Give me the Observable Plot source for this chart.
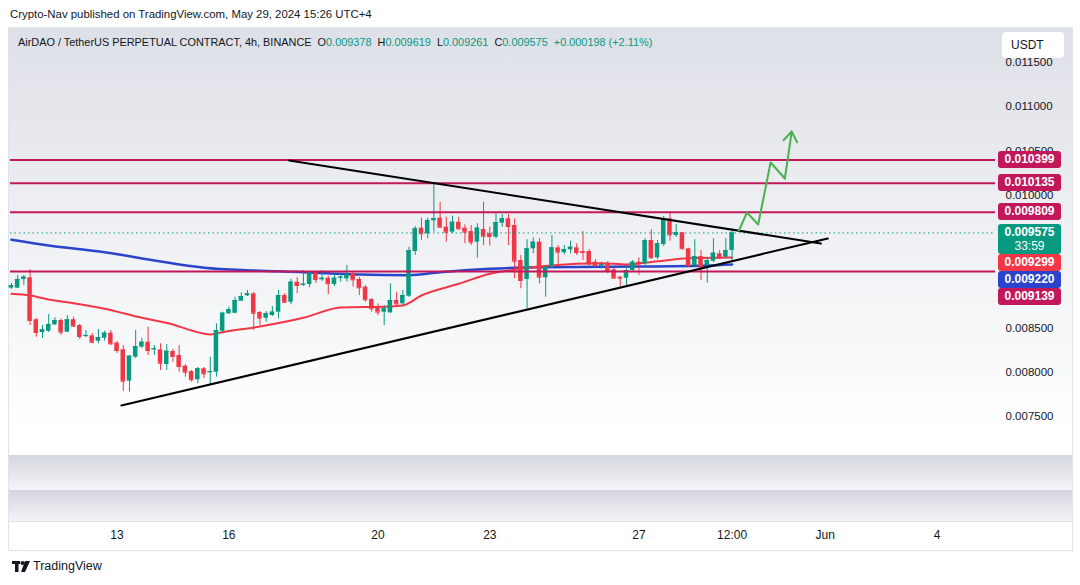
<!DOCTYPE html>
<html><head><meta charset="utf-8">
<script src="https://cdn.jsdelivr.net/npm/d3@7"></script>
<script src="https://cdn.jsdelivr.net/npm/@observablehq/plot@0.6"></script>
<style>
body{margin:0;background:#fff;font-family:"Liberation Sans",Arial,sans-serif;color:#131722;}
#root{position:relative;width:1080px;height:585px;overflow:hidden;background:#fff;}
.abs{position:absolute;}
.pane{left:9px;width:1063px;}
.lbl{position:absolute;left:998px;width:63px;border-radius:3px;color:#fff;font-weight:bold;font-size:12px;line-height:17px;padding-left:0;text-align:center;}
#root svg{position:absolute;left:0;top:0;}
</style></head><body><div id="root"></div>
<script>
// ---- data (prices in USDT) ----
const startTime = "2024-05-10T04:00:00Z"; // first visible 4h candle
const opens = [0.008952,0.008952,0.009050,0.009069,0.008595,0.008451,0.008466,0.008538,0.008587,0.008455,
0.008595,0.008530,0.008406,0.008414,0.008353,0.008387,0.008444,0.008331,0.008256,0.007902,
0.008173,0.008286,0.008342,0.008256,0.008256,0.008090,0.008237,0.008192,0.008071,0.008011,
0.007918,0.008042,0.007997,0.008003,0.008466,0.008663,0.008669,0.008805,0.008866,0.008888,
0.008677,0.008613,0.008643,0.008681,0.008869,0.008793,0.009019,0.008982,0.008993,0.009125,
0.009046,0.009064,0.008993,0.009064,0.009057,0.009114,0.009050,0.008963,0.008824,0.008726,
0.008681,0.008674,0.008813,0.008775,0.008861,0.009366,0.009629,0.009566,0.009712,0.009742,
0.009640,0.009584,0.009696,0.009629,0.009591,0.009471,0.009614,0.009566,0.009527,0.009685,
0.009735,0.009659,0.009264,0.009050,0.009396,0.009471,0.009069,0.009189,0.009407,0.009351,
0.009385,0.009407,0.009366,0.009366,0.009245,0.009200,0.009227,0.009159,0.009076,0.009064,
0.009151,0.009245,0.009227,0.009490,0.009295,0.009445,0.009735,0.009546,0.009577,0.009396,
0.009208,0.009309,0.009208,0.009256,0.009340,0.009301,0.009378];
const highs = [0.009005,0.009095,0.009095,0.009159,0.008610,0.008530,0.008655,0.008617,0.008606,0.008643,
0.008624,0.008542,0.008474,0.008440,0.008485,0.008466,0.008474,0.008350,0.008305,0.008192,
0.008474,0.008387,0.008511,0.008305,0.008324,0.008316,0.008260,0.008305,0.008090,0.008023,
0.008056,0.008056,0.008173,0.008550,0.008681,0.008737,0.008850,0.008900,0.008926,0.008903,
0.008688,0.008688,0.008745,0.008926,0.008892,0.009053,0.009069,0.009151,0.009140,0.009140,
0.009151,0.009087,0.009106,0.009121,0.009208,0.009140,0.009072,0.008982,0.008835,0.008775,
0.008756,0.009001,0.008906,0.008926,0.009414,0.009648,0.009742,0.009742,0.010130,0.009922,
0.009753,0.009764,0.009753,0.009667,0.009659,0.009678,0.009922,0.009640,0.009791,0.009783,
0.009783,0.009735,0.009321,0.009498,0.009520,0.009512,0.009208,0.009546,0.009433,0.009433,
0.009482,0.009453,0.009591,0.009388,0.009275,0.009245,0.009253,0.009174,0.009084,0.009170,
0.009264,0.009295,0.009512,0.009611,0.009490,0.009764,0.009809,0.009670,0.009584,0.009403,
0.009498,0.009377,0.009298,0.009509,0.009377,0.009512,0.009619];
const lows = [0.008937,0.008948,0.008982,0.008530,0.008398,0.008384,0.008451,0.008530,0.008418,0.008451,
0.008508,0.008372,0.008392,0.008324,0.008324,0.008353,0.008305,0.008214,0.007786,0.007778,
0.008158,0.008271,0.008192,0.008192,0.008023,0.008023,0.008116,0.008003,0.007947,0.007891,
0.007872,0.007929,0.007853,0.007947,0.008451,0.008655,0.008663,0.008801,0.008858,0.008474,
0.008530,0.008568,0.008632,0.008606,0.008779,0.008764,0.008888,0.008971,0.008956,0.009005,
0.009027,0.008877,0.008971,0.009019,0.009019,0.008963,0.008869,0.008793,0.008681,0.008643,
0.008530,0.008666,0.008756,0.008756,0.008847,0.009321,0.009490,0.009509,0.009584,0.009625,
0.009471,0.009569,0.009603,0.009453,0.009433,0.009290,0.009433,0.009426,0.009509,0.009640,
0.009433,0.009058,0.008945,0.008719,0.009340,0.009001,0.008850,0.009174,0.009208,0.009328,
0.009340,0.009321,0.009264,0.009189,0.009185,0.009170,0.009114,0.009050,0.008963,0.008982,
0.009140,0.009095,0.009208,0.009275,0.009275,0.009422,0.009482,0.009524,0.009385,0.009185,
0.009189,0.009038,0.009008,0.009242,0.009275,0.009287,0.009261];
const closes = [0.008982,0.009050,0.009076,0.008587,0.008451,0.008482,0.008542,0.008587,0.008455,0.008595,
0.008523,0.008406,0.008418,0.008342,0.008395,0.008444,0.008324,0.008248,0.007902,0.008184,
0.008293,0.008342,0.008248,0.008268,0.008105,0.008240,0.008181,0.008068,0.008003,0.007918,
0.008042,0.007985,0.008011,0.008474,0.008669,0.008708,0.008813,0.008858,0.008888,0.008669,
0.008613,0.008663,0.008681,0.008869,0.008793,0.009019,0.008982,0.008997,0.009125,0.009050,
0.009064,0.009001,0.009064,0.009076,0.009106,0.009046,0.008956,0.008821,0.008719,0.008681,
0.008719,0.008813,0.008775,0.008869,0.009377,0.009622,0.009566,0.009716,0.009735,0.009640,
0.009584,0.009696,0.009622,0.009584,0.009471,0.009629,0.009538,0.009535,0.009693,0.009735,
0.009648,0.009256,0.009038,0.009396,0.009471,0.009076,0.009189,0.009407,0.009358,0.009388,
0.009414,0.009354,0.009354,0.009227,0.009208,0.009219,0.009151,0.009064,0.009064,0.009151,
0.009245,0.009227,0.009490,0.009295,0.009453,0.009735,0.009554,0.009577,0.009396,0.009208,
0.009309,0.009189,0.009264,0.009347,0.009295,0.009377,0.009575];

// moving averages (candle index, value)
const emaFastIdx = [0,3,6,10,15,21,26,29,32,34,40,47,53,61,63,66,72,77,82,85,91,95,99,104,109,116];
const emaFastVal = [0.008888,0.008869,0.008824,0.008782,0.008719,0.008617,0.008542,0.008474,0.008429,0.008455,0.008519,0.008617,0.008734,0.008745,0.008756,0.008869,0.009001,0.009114,0.009170,0.009196,0.009227,0.009234,0.009219,0.009256,0.009290,0.009299];
const emaSlowIdx = [0,6,15,23,31,39,47,56,64,69,77,85,101,112,116];
const emaSlowVal = [0.009498,0.009433,0.009358,0.009264,0.009182,0.009151,0.009132,0.009106,0.009098,0.009132,0.009170,0.009189,0.009196,0.009208,0.009220];

// horizontal levels
const levels = [0.010399, 0.010135, 0.009809, 0.009139];
// triangle trendlines (candle index, price)
const upperIdx = [44.7, 130.3], upperVal = [0.010393, 0.009456];
const lowerIdx = [17.7, 131.4], lowerVal = [0.007628, 0.009512];
// projected path
const projIdx = [117.1, 118.4, 120.2, 122.2, 124.5, 125.6];
const projVal = [0.009603, 0.009806, 0.009670, 0.010370, 0.010190, 0.010720];

// axes (ticks hidden behind the price labels are left out)
const yTicks = [0.0075,0.008,0.0085,0.010,0.0105,0.011,0.0115];
const xTickTimes = ["2024-05-13T00:00Z","2024-05-16T00:00Z","2024-05-20T00:00Z","2024-05-23T00:00Z","2024-05-27T00:00Z","2024-05-29T12:00Z","2024-06-01T00:00Z","2024-06-04T00:00Z"];
const xTickLabels = ["13","16","20","23","27","12:00","Jun","4"];

// ---- build ----
const HOUR = 3600e3, t0 = Date.parse(startTime);
const tAt = k => new Date(t0 + k * 4 * HOUR);
const half = 1.45 * HOUR;
const candles = opens.map((o, i) => ({t: tAt(i), open: o, high: highs[i], low: lows[i], close: closes[i], up: closes[i] >= o}));
const UP = "#089981", DOWN = "#f23645", LEVEL = "#c2185b", BLUE = "#2b44cc";
const col = d => d.up ? UP : DOWN;
const pts = (I, V) => I.map((k, i) => ({t: tAt(k), v: V[i]}));
const xTicks = xTickTimes.map(s => new Date(s));
const tickMap = new Map(xTicks.map((d, i) => [+d, xTickLabels[i]]));
const proj = pts(projIdx, projVal);

const chart = Plot.plot({
  width: 1080, height: 585,
  marginLeft: 10, marginRight: 85, marginTop: 28, marginBottom: 130,
  style: {background: "transparent", fontFamily: "Liberation Sans, Arial, sans-serif", fontSize: "11.5px", color: "#131722"},
  x: {type: "utc", domain: [tAt(-0.15), tAt(158.4)]},
  y: {domain: [0.007063, 0.011883]},
  marks: [
    Plot.axisY({anchor: "right", ticks: yTicks, tickFormat: d => d.toFixed(6), tickSize: 0, tickPadding: 10, fill: "#131722", label: null}),
    Plot.axisX({ticks: xTicks, tickFormat: d => tickMap.get(+d), tickSize: 0, tickPadding: 0, dy: 75, fill: "#131722", fontSize: 12, label: null}),
    Plot.line(pts(emaSlowIdx, emaSlowVal), {x: "t", y: "v", stroke: BLUE, strokeWidth: 2.5, curve: "monotone-x"}),
    Plot.line(pts(emaFastIdx, emaFastVal), {x: "t", y: "v", stroke: DOWN, strokeWidth: 2, curve: "monotone-x"}),
    Plot.ruleX(candles, {x: "t", y1: "low", y2: "high", stroke: col, strokeWidth: 1}),
    Plot.rect(candles, {x1: d => new Date(+d.t - half), x2: d => new Date(+d.t + half), y1: "open", y2: "close", fill: col}),
    Plot.ruleY(candles, {y: "close", x1: d => new Date(+d.t - half), x2: d => new Date(+d.t + half), stroke: col, strokeWidth: 1}),
    Plot.ruleY([closes[closes.length - 1]], {stroke: UP, strokeWidth: 1, strokeDasharray: "1.5,3"}),
    Plot.ruleY(levels, {stroke: LEVEL, strokeWidth: 2}),
    Plot.line(pts(upperIdx, upperVal), {x: "t", y: "v", stroke: "#000", strokeWidth: 2}),
    Plot.line(pts(lowerIdx, lowerVal), {x: "t", y: "v", stroke: "#000", strokeWidth: 2}),
    Plot.line(proj.slice(0, -1), {x: "t", y: "v", stroke: "#4caf50", strokeWidth: 2}),
    Plot.arrow([0], {x1: () => proj[4].t, y1: () => proj[4].v, x2: () => proj[5].t, y2: () => proj[5].v, stroke: "#4caf50", strokeWidth: 2, headLength: 9, headAngle: 70})
  ]
});

const root = document.getElementById("root");
function div(cls, css, html) { const d = document.createElement("div"); d.className = cls; d.style.cssText = css; if (html != null) d.innerHTML = html; root.appendChild(d); return d; }
// backgrounds
div("abs pane", "top:28px;height:427px;background:linear-gradient(#dde0e7,#eaecf0 35%,#ffffff 95%);");
div("abs pane", "top:455px;height:35px;background:linear-gradient(#d3d6de,#f4f5f7);");
div("abs pane", "top:490px;height:32px;background:linear-gradient(#d3d6de,#f4f5f7);");
div("abs", "left:8px;top:27px;width:1063px;height:522px;border:1px solid #e0e3eb;");
div("abs pane", "top:521px;height:1px;background:#e0e3eb;");
root.appendChild(chart);
// header texts
div("abs", "left:10px;top:8px;font-size:11.4px;color:#131722;white-space:nowrap;", "Crypto-Nav published on TradingView.com, May 29, 2024 15:26 UTC+4");
const g = s => `<span style="color:${UP}">${s}</span>`;
div("abs", "left:18px;top:36px;font-size:10.9px;color:#131722;white-space:pre;",
  "AirDAO / TetherUS PERPETUAL CONTRACT, 4h, BINANCE  O" + g("0.009378") + "  H" + g("0.009619") + "  L" + g("0.009261") + "  C" + g("0.009575") + "  " + g("+0.000198 (+2.11%)"));
div("abs", "left:1002px;top:32px;width:62px;height:26px;background:#fff;border-radius:4px;font-size:12px;line-height:26px;text-indent:9px;color:#131722;", "USDT");
// price labels on the right, positioned with the plot's own y scale and stacked
const ys = chart.scale("y");
const labels = [
  {v: levels[0], html: "0.010399", bg: LEVEL},
  {v: levels[1], html: "0.010135", bg: LEVEL},
  {v: levels[2], html: "0.009809", bg: LEVEL},
  {v: closes[closes.length - 1], html: "0.009575<br><span style='font-weight:normal'>33:59</span>", bg: UP, h: 30},
  {v: emaFastVal[emaFastVal.length - 1], html: "0.009299", bg: DOWN},
  {v: emaSlowVal[emaSlowVal.length - 1], html: "0.009220", bg: BLUE},
  {v: levels[3], html: "0.009139", bg: LEVEL}
];
let prevBottom = -1e9;
for (const L of labels) {
  const h = L.h || 17;
  let top = ys.apply(L.v) - 8.5;
  if (top < prevBottom) top = prevBottom;
  prevBottom = top + h;
  div("lbl", `top:${top}px;height:${h}px;background:${L.bg};line-height:${h === 17 ? 17 : 14}px;padding-top:${h === 17 ? 0 : 1}px;box-sizing:border-box;`, L.html);
}
// footer
div("abs", "left:12px;top:561px;", `<svg width="20" height="12"><rect x="0" y="0" width="8" height="3" fill="#131722"/><rect x="3" y="0" width="3.5" height="11" fill="#131722"/><circle cx="10.5" cy="2" r="2" fill="#131722"/><path d="M13 0h5l-5 11h-4z" fill="#131722"/></svg>`);
div("abs", "left:33px;top:559px;font-size:12.5px;color:#131722;", "TradingView");
</script></body></html>
